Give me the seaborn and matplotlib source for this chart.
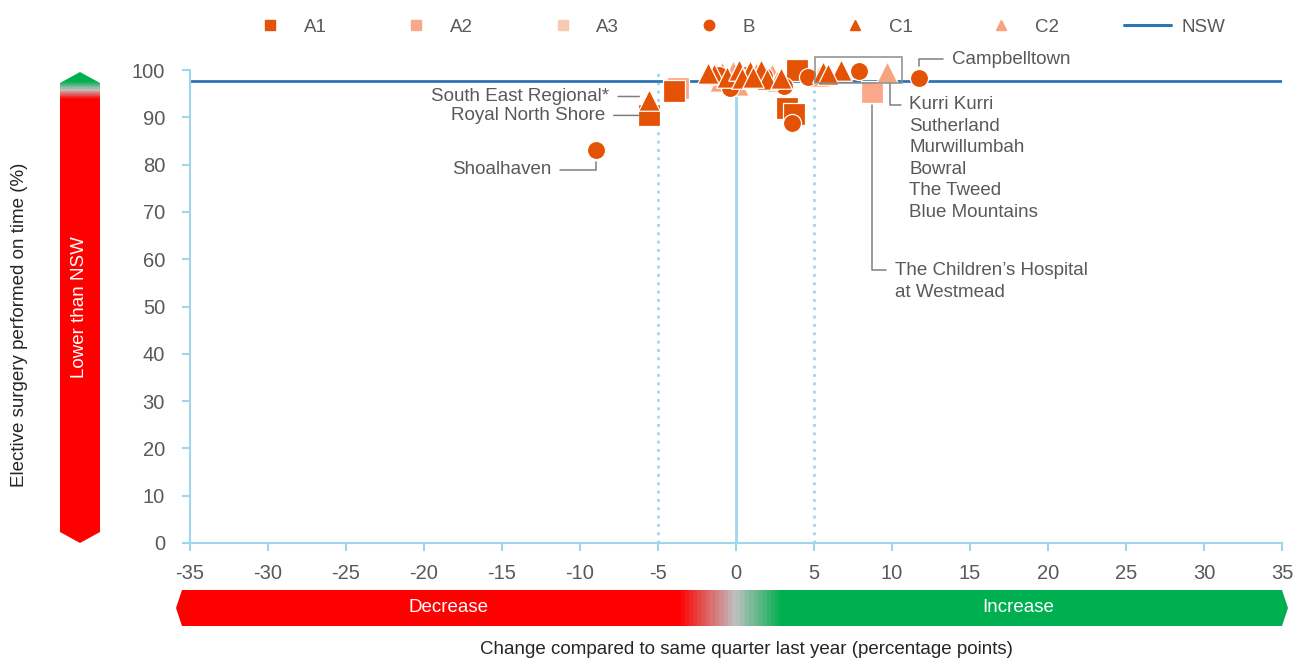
import numpy as np
import pandas as pd
import matplotlib
matplotlib.use('Agg')
import matplotlib.pyplot as plt
import seaborn as sns
from matplotlib.colors import LinearSegmentedColormap
from matplotlib.patches import Polygon, Rectangle
from matplotlib.lines import Line2D

# ---------------------------------------------------------------------------
# data
# ---------------------------------------------------------------------------
hospital = ['Royal North Shore', 'South East Regional*', 'Shoalhaven', '', '',
            '', '', '', '', '', '', '', '', '', '', '', '', '', '', '', '',
            '', '', '', '', '', '', '', '', '', '', '',
            'Campbelltown', 'The Children\u2019s Hospital at Westmead', '', '',
            '', '', '', '', '']
change = [-5.6, -5.6, -9.0, -3.7, -4.0,
          3.3, 3.7, 3.6, 3.9, 4.6, 3.1, -0.4, -1.4, -0.9, -0.6, 0.1, 0.2, 0.5, 0.9, 1.3, 1.6,
          2.0, 2.3, 2.6, -1.1, 0.7, 5.3, 5.6, 6.7, 7.9, 9.7, 5.9,
          11.7, 8.7, -1.8, 1.8,
          -0.2, 0.4, 1.1, 2.9, -1.0]
on_time = [90.4, 93.7, 83.1, 96.2, 95.6,
           92.0, 90.8, 88.9, 99.9, 98.6, 96.6, 96.3, 99.2, 99.6, 98.5, 96.9, 100.0, 99.0, 99.8, 99.3, 100.0,
           98.0, 99.1, 97.7, 98.9, 97.8, 98.7, 99.6, 100.0, 99.8, 99.6, 99.1,
           98.3, 95.3, 99.3, 98.8,
           99.7, 98.3, 98.6, 98.4, 97.6]
peer_group = ['A1', 'C1', 'B', 'A2', 'A1',
              'A1', 'A1', 'B', 'A1', 'B', 'B', 'B', 'C1', 'C2', 'C1', 'C2', 'C1', 'B', 'C1', 'C2', 'C1',
              'C1', 'C2', 'C2', 'B', 'B', 'C2', 'C1', 'C1', 'B', 'C2', 'C1',
              'B', 'A2', 'C1', 'B',
              'C2', 'C1', 'C1', 'C1', 'C2']
# hospitals inside the grey box (same order as the list beside it)
box_members = [26, 27, 28, 29, 30, 31]
box_names = ['Kurri Kurri', 'Sutherland', 'Murwillumbah', 'Bowral', 'The Tweed', 'Blue Mountains']

nsw_value = 97.7
groups = ['A1', 'A2', 'A3', 'B', 'C1', 'C2']
x_ticks = list(range(-35, 40, 5))
y_ticks = list(range(0, 110, 10))

# ---------------------------------------------------------------------------
# style
# ---------------------------------------------------------------------------
sns.set_style('white')
plt.rcParams['font.family'] = ['Liberation Sans', 'DejaVu Sans']
TXT = '#595959'
AXC = '#9FD6EE'
ORANGE = '#E35205'
PALETTE = {'A1': ORANGE, 'A2': '#FBA88A', 'A3': '#F8C9B3',
           'B': ORANGE, 'C1': ORANGE, 'C2': '#F6A47F'}
MARKERS = {'A1': 's', 'A2': 's', 'A3': 's', 'B': 'o', 'C1': '^', 'C2': '^'}
SIZES = {'s': 235, 'o': 170, '^': 240}
FS = 13.5
TICK_FS = 14.5

df = pd.DataFrame({'hospital': hospital, 'change': change,
                   'on_time': on_time, 'group': peer_group})

fig = plt.figure(figsize=(12.96, 6.6), dpi=100)
ax = fig.add_axes([190 / 1296, 117 / 660, 1092 / 1296, 473 / 660])

# reference lines
ax.axvline(0, color=AXC, lw=2, zorder=1)
for v in (-5, 5):
    ax.axvline(v, color=AXC, lw=2, ls=(0, (1, 2)), zorder=1)
ax.axhline(nsw_value, color='#2E75B6', lw=2, zorder=2)

# points, drawn group by group so the lighter ones sit behind
for g in ['A2', 'C2', 'A1', 'B', 'C1']:
    sub = df[df['group'] == g]
    sns.scatterplot(data=sub, x='change', y='on_time', ax=ax, color=PALETTE[g],
                    marker=MARKERS[g], s=SIZES[MARKERS[g]],
                    edgecolor='white', linewidth=0.9, zorder=3, legend=False, clip_on=False)

ax.set_xlim(-35, 35)
ax.set_ylim(0, 100)
ax.set_xticks(x_ticks)
ax.set_yticks(y_ticks)
ax.set_xlabel('')
ax.set_ylabel('')
for s in ['top', 'right']:
    ax.spines[s].set_visible(False)
for s in ['left', 'bottom']:
    ax.spines[s].set_color(AXC)
    ax.spines[s].set_linewidth(1.5)
ax.tick_params(axis='both', colors=AXC, labelcolor=TXT, labelsize=TICK_FS,
               length=6, width=1.5, direction='out', bottom=True, left=True)
ax.tick_params(axis='y', pad=12)
ax.tick_params(axis='x', pad=9)
ax.set_xticklabels([str(t) for t in x_ticks])

# ---------------------------------------------------------------------------
# annotations
# ---------------------------------------------------------------------------
LINE = dict(arrowstyle='-', color='#7F7F7F', lw=1.1)


def pt(name):
    i = hospital.index(name)
    return change[i], on_time[i]


def label(text, xy, off, ha, conn='arc3', shrinkB=8):
    ax.annotate(text, xy=xy, xytext=off, textcoords='offset pixels',
                ha=ha, va='center', fontsize=FS, color=TXT,
                arrowprops=dict(LINE, connectionstyle=conn, shrinkA=4, shrinkB=shrinkB),
                annotation_clip=False)


x, y = pt('South East Regional*')
label('South East Regional*', (x - 0.6, y + 0.7), (-30, 0), 'right', shrinkB=0)
x, y = pt('Royal North Shore')
label('Royal North Shore', (x - 0.5, y), (-36, 0), 'right', shrinkB=0)
x, y = pt('Shoalhaven')
label('Shoalhaven', (x, y), (-44, -20), 'right', 'angle,angleA=0,angleB=90,rad=0', 9)
x, y = pt('Campbelltown')
label('Campbelltown', (x, y), (33, 19), 'left', 'angle,angleA=0,angleB=90,rad=0', 9)
x, y = pt('The Children\u2019s Hospital at Westmead')
label('The Children\u2019s Hospital', (x, y), (23, -178), 'left',
      'angle,angleA=0,angleB=90,rad=0', 9)
ax.annotate('at Westmead', xy=(x, y), xytext=(23, -200), textcoords='offset pixels',
            ha='left', va='center', fontsize=FS, color=TXT, annotation_clip=False)

bx = [change[i] for i in box_members]
by = [on_time[i] for i in box_members]
x0, x1 = min(bx) - 0.25, max(bx) + 0.95
y0, y1 = min(by) - 1.4, 102.7
ax.add_patch(Rectangle((x0, y0), x1 - x0, y1 - y0, fill=False, ec='#8C8C8C',
                       lw=1.1, clip_on=False, zorder=4))
for k, name in enumerate(box_names):
    off = (19, -22 - 21.5 * k)
    if k == 0:
        label(name, (x1 - 0.75, y0), off, 'left', 'angle,angleA=0,angleB=90,rad=0', 0)
    else:
        ax.annotate(name, xy=(x1 - 0.75, y0), xytext=off, textcoords='offset pixels',
                    ha='left', va='center', fontsize=FS, color=TXT, annotation_clip=False)

# ---------------------------------------------------------------------------
# legend: equally spaced entries across the top
# ---------------------------------------------------------------------------
handles = [Line2D([], [], ls='', marker=MARKERS[g], color=PALETTE[g], markersize=7.5)
           for g in groups]
handles.append(Line2D([], [], color='#2E75B6', lw=2.2))
half_handle = 2.5 * FS / 72 * 100 / 2
for i, (h, lab) in enumerate(zip(handles, groups + ['NSW'])):
    cx = 270 + 146.3 * i
    fig.legend([h], [lab], loc='center left',
               bbox_to_anchor=((cx - half_handle) / 1296, 1 - 27 / 660),
               frameon=False, fontsize=FS, labelcolor=TXT, handlelength=2.5,
               handletextpad=0.55, borderpad=0, borderaxespad=0)

# ---------------------------------------------------------------------------
# coloured arrows
# ---------------------------------------------------------------------------
RED, GREY, GREEN = '#FF0000', '#C0C0C0', '#00B050'

# horizontal arrow (below x axis)
hax = fig.add_axes([176 / 1296, 34 / 660, 1112 / 1296, 36 / 660])
hmap = LinearSegmentedColormap.from_list(
    'h', [(0, RED), (0.452, RED), (0.503, GREY), (0.545, GREEN), (1, GREEN)])
tip = 6 / 1112
poly = Polygon([(0, 0.5), (tip, 1), (1 - tip, 1), (1, 0.5), (1 - tip, 0), (tip, 0)],
               closed=True, transform=hax.transAxes, fc='none', ec='none')
hax.add_patch(poly)
im = hax.imshow(np.linspace(0, 1, 800).reshape(1, -1), cmap=hmap, aspect='auto',
                extent=[0, 1, 0, 1])
im.set_clip_path(poly)
hax.set_xlim(0, 1)
hax.set_ylim(0, 1)
hax.axis('off')
hax.text(272 / 1112, 0.5, 'Decrease', color='white', fontsize=FS, ha='center', va='center')
hax.text(842 / 1112, 0.5, 'Increase', color='white', fontsize=FS, ha='center', va='center')

# vertical arrow (left of y axis)
vax = fig.add_axes([60 / 1296, 117 / 660, 40 / 1296, 471 / 660])
vmap = LinearSegmentedColormap.from_list(
    'v', [(0, RED), (0.945, RED), (0.965, GREY), (0.982, GREEN), (1, GREEN)])
vt = 11 / 471
vpoly = Polygon([(0.5, 0), (1, vt), (1, 1 - vt), (0.5, 1), (0, 1 - vt), (0, vt)],
                closed=True, transform=vax.transAxes, fc='none', ec='none')
vax.add_patch(vpoly)
vim = vax.imshow(np.linspace(0, 1, 800).reshape(-1, 1), cmap=vmap, aspect='auto',
                 origin='lower', extent=[0, 1, 0, 1])
vim.set_clip_path(vpoly)
vax.set_xlim(0, 1)
vax.set_ylim(0, 1)
vax.axis('off')
vax.text(0.5, (543 - 307) / 471, 'Lower than NSW', color='white', fontsize=FS,
         rotation=90, ha='center', va='center')

# axis titles
fig.text(20 / 1296, 1 - 325 / 660, 'Elective surgery performed on time (%)', rotation=90,
         ha='center', va='center', fontsize=FS, color='#262626')
fig.text(746 / 1296, 1 - 650 / 660, 'Change compared to same quarter last year (percentage points)',
         ha='center', va='center', fontsize=FS, color='#262626')

fig.savefig('out.png', dpi=100)
